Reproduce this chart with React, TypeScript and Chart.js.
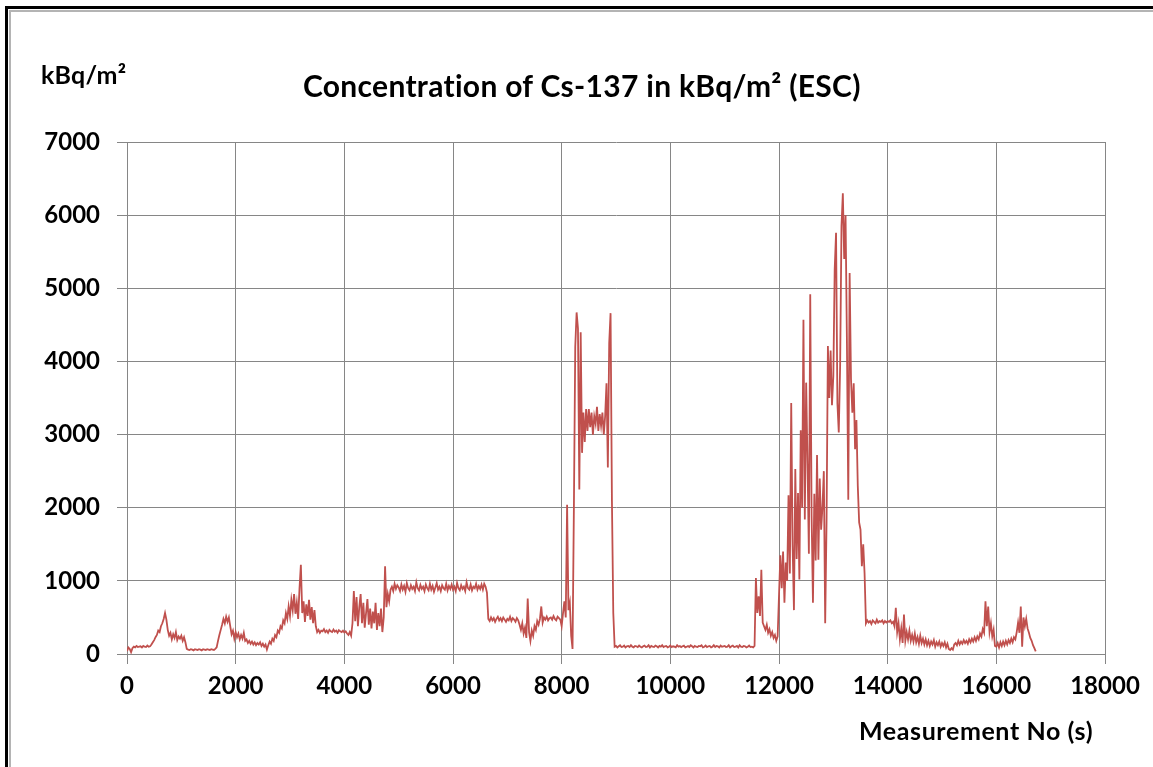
import React, { useEffect, useRef } from "react";
import { Chart, registerables } from "chart.js";

Chart.register(...registerables);

// ---- Data ----
const CHART_TITLE = "Concentration of Cs-137 in kBq/m\u00B2 (ESC)";
const Y_UNIT = "kBq/m\u00B2";
const X_TITLE = "Measurement No (s)";

const xTickValues = [0, 2000, 4000, 6000, 8000, 10000, 12000, 14000, 16000, 18000];
const yTickValues = [0, 1000, 2000, 3000, 4000, 5000, 6000, 7000];

// Measurement numbers are sequential; one reading kept every SAMPLE_STEP measurements
const SAMPLE_STEP = 25;

// Cs-137 concentration (kBq/m²), one row per 500 measurements
const cs137 = [
  // 0 - 475
  40, 90, 70, 25, 80, 100, 90, 110, 95, 100, 105, 90, 110, 100, 95, 115, 100, 105, 130, 160,
  // 500 - 975
  190, 230, 260, 320, 300, 380, 420, 480, 560, 470, 330, 250, 290, 200, 270, 220, 300, 190, 240, 210,
  // 1000 - 1475
  250, 180, 230, 160, 70, 60, 55, 65, 60, 50, 65, 60, 55, 65, 60, 50, 65, 60, 55, 65,
  // 1500 - 1975
  60, 55, 65, 60, 55, 70, 90, 180, 260, 330, 400, 480, 420, 510, 440, 500, 380, 270, 320, 210,
  // 2000 - 2475
  300, 230, 280, 200, 260, 210, 290, 180, 200, 150, 180, 140, 170, 130, 160, 120, 150, 130, 160, 110,
  // 2500 - 2975
  140, 100, 130, 60, 120, 170, 140, 210, 180, 260, 230, 320, 290, 380, 350, 460, 420, 560, 480, 650,
  // 3000 - 3475
  520, 740, 600, 820, 550, 700, 480, 900, 1220, 560, 720, 440, 680, 520, 740, 470, 640, 420, 600, 380,
  // 3500 - 3975
  300, 330, 290, 320, 310, 340, 300, 320, 290, 330, 310, 300, 335, 305, 320, 290, 325, 310, 300, 320,
  // 4000 - 4475
  295, 310, 280, 260, 300, 250, 420, 860, 450, 780, 380, 640, 820, 420, 700, 360, 560, 750, 400, 620,
  // 4500 - 4975
  350, 580, 420, 700, 330, 560, 380, 620, 300, 500, 1200, 640, 820, 720, 880, 920, 860, 960, 890, 940,
  // 5000 - 5475
  910, 860, 950, 880, 930, 850, 970, 900, 870, 940, 890, 920, 860, 980, 900, 870, 945, 890, 920, 860,
  // 5500 - 5975
  950, 900, 870, 960, 880, 930, 850, 910, 970, 880, 920, 860, 940, 900, 880, 960, 870, 930, 890, 950,
  // 6000 - 6475
  880, 920, 860, 970, 900, 870, 940, 890, 920, 860, 980, 900, 880, 950, 870, 920, 900, 960, 880, 930,
  // 6500 - 6975
  890, 950, 880, 960, 920, 840, 480, 450, 500, 460, 490, 440, 480, 510, 460, 490, 450, 500, 470, 440,
  // 7000 - 7475
  480, 460, 510, 450, 490, 470, 440, 490, 460, 400, 330, 420, 280, 360, 220, 760, 300, 180, 320, 250,
  // 7500 - 7975
  380, 330, 450, 400, 480, 650, 430, 500, 470, 510, 460, 490, 500, 470, 520, 480, 460, 510, 490, 470,
  // 8000 - 8475
  380, 560, 720, 500, 2040, 600, 700, 250, 70, 2000, 4200, 4670, 4450, 2250, 4400, 2750, 3300, 2900, 3350, 3050,
  // 8500 - 8975
  3350, 3100, 3300, 3000, 3250, 3150, 3380, 3050, 3280, 3120, 3300, 3000, 3250, 3700, 2550, 4250, 4660, 2100, 560, 100,
  // 9000 - 9475
  110, 90, 105, 120, 95, 100, 115, 90, 105, 110, 95, 120, 100, 90, 110, 105, 95, 115, 100, 90,
  // 9500 - 9975
  105, 115, 95, 100, 120, 90, 110, 100, 95, 115, 105, 90, 110, 100, 120, 95, 105, 110, 90, 100,
  // 10000 - 10475
  115, 95, 105, 100, 90, 120, 100, 110, 95, 105, 115, 90, 100, 110, 95, 120, 105, 90, 110, 100,
  // 10500 - 10975
  95, 110, 105, 120, 90, 100, 115, 95, 105, 110, 90, 100, 120, 95, 110, 105, 90, 115, 100, 105,
  // 11000 - 11475
  110, 95, 100, 120, 90, 105, 115, 95, 100, 110, 90, 120, 100, 95, 110, 105, 90, 100, 115, 95,
  // 11500 - 11975
  100, 90, 110, 1040, 560, 790, 520, 1150, 430, 380, 330, 400, 290, 340, 250, 300, 220, 260, 180, 240,
  // 12000 - 12475
  800, 1350, 900, 1400, 700, 1250, 1000, 2170, 1100, 3430, 1500, 600, 2530, 1300, 2200, 1020, 3060, 2000, 4570, 1840,
  // 12500 - 12975
  3710, 2600, 1370, 4920, 1890, 700, 2190, 1280, 2720, 1290, 2400, 1700, 2010, 2500, 420, 1800, 4210, 3500, 4150, 3400,
  // 13000 - 13475
  3800, 5260, 5760, 3430, 3030, 3930, 5850, 6300, 5400, 6000, 4270, 2110, 5210, 3760, 3300, 3700, 2800, 3200, 2300, 1800,
  // 13500 - 13975
  1700, 1200, 1500, 1100, 420, 460, 430, 450, 410, 460, 440, 420, 470, 430, 450, 440, 460, 420, 450, 430,
  // 14000 - 14475
  450, 440, 460, 420, 440, 380, 630, 300, 420, 200, 350, 150, 540, 180, 300, 200, 320, 180, 260, 170,
  // 14500 - 14975
  280, 160, 230, 140, 250, 150, 210, 130, 200, 120, 180, 110, 170, 130, 190, 100, 160, 120, 170, 100,
  // 15000 - 15475
  150, 110, 160, 90, 140, 70, 55, 80, 60, 130, 150, 120, 180, 130, 170, 140, 190, 150, 180, 140,
  // 15500 - 15975
  200, 160, 210, 170, 230, 180, 240, 200, 280, 240, 340, 290, 720, 380, 650, 300, 420, 240, 330, 110,
  // 16000 - 16475
  100, 150, 90, 160, 110, 170, 120, 180, 130, 190, 150, 210, 160, 230, 200, 300, 430, 290, 650, 100,
  // 16500 - 16725
  500, 380, 480, 350, 290, 220, 180, 120, 80, 35,
];

const FONT = "Lato, 'Open Sans', sans-serif";
const LINE_COLOR = "#C0504D";
const GRID_COLOR = "#868686";

export default function App() {
  const canvasRef = useRef<HTMLCanvasElement | null>(null);

  useEffect(() => {
    const canvas = canvasRef.current;
    if (!canvas) return;
    const points = cs137.map((v, i) => ({ x: i * SAMPLE_STEP, y: v }));
    const tickFont = { family: FONT, size: 24, weight: "bold" as const };
    const chart = new Chart(canvas, {
      type: "line",
      data: {
        datasets: [
          {
            data: points,
            borderColor: LINE_COLOR,
            borderWidth: 1.8,
            pointRadius: 0,
            tension: 0,
            fill: false,
          },
        ],
      },
      options: {
        responsive: false,
        animation: false,
        events: [],
        layout: { padding: { left: 0, right: 48, top: 142, bottom: 0 } },
        plugins: { legend: { display: false }, tooltip: { enabled: false }, title: { display: false } },
        scales: {
          x: {
            type: "linear",
            min: xTickValues[0],
            max: xTickValues[xTickValues.length - 1],
            afterBuildTicks: (s: any) => {
              s.ticks = xTickValues.map((v) => ({ value: v }));
            },
            afterFit: (s: any) => {
              s.height = 113;
            },
            ticks: {
              font: tickFont,
              color: "#000",
              padding: 8,
              maxRotation: 0,
              autoSkip: false,
              callback: (v: any) => String(v),
            },
            grid: { color: GRID_COLOR, lineWidth: 1, tickLength: 10, drawTicks: true },
            border: { color: GRID_COLOR, width: 1 },
          },
          y: {
            type: "linear",
            min: yTickValues[0],
            max: yTickValues[yTickValues.length - 1],
            afterBuildTicks: (s: any) => {
              s.ticks = yTickValues.map((v) => ({ value: v }));
            },
            afterFit: (s: any) => {
              s.width = 127;
            },
            ticks: {
              font: tickFont,
              color: "#000",
              padding: 17,
              autoSkip: false,
              callback: (v: any) => String(v),
            },
            grid: { color: GRID_COLOR, lineWidth: 1, tickLength: 10, drawTicks: true },
            border: { color: GRID_COLOR, width: 1 },
          },
        },
      },
    });
    return () => chart.destroy();
  }, []);

  const textBase: React.CSSProperties = {
    position: "absolute",
    fontFamily: FONT,
    fontWeight: 700,
    color: "#000",
    whiteSpace: "nowrap",
    lineHeight: 1,
  };

  return (
    <div
      style={{
        position: "fixed",
        left: 0,
        top: 0,
        width: 1153,
        height: 767,
        background: "#fff",
        overflow: "hidden",
      }}
    >
      <div
        style={{
          position: "absolute",
          left: 5,
          top: 6,
          width: 1300,
          height: 900,
          borderTop: "3px solid #000",
          borderLeft: "3px solid #000",
        }}
      >
        <div
          style={{
            position: "absolute",
            left: 1,
            top: 1,
            width: 1300,
            height: 900,
            borderTop: "2px solid #b4b4b4",
            borderLeft: "2px solid #b4b4b4",
          }}
        />
      </div>
      <canvas
        ref={canvasRef}
        width={1153}
        height={767}
        style={{ position: "absolute", left: 0, top: 0, width: 1153, height: 767 }}
      />
      <div style={{ ...textBase, left: 303, top: 70, fontSize: 30, letterSpacing: 0.3 }}>{CHART_TITLE}</div>
      <div style={{ ...textBase, left: 41, top: 62, fontSize: 25, letterSpacing: 0.2 }}>{Y_UNIT}</div>
      <div style={{ ...textBase, left: 859, top: 718, fontSize: 25, letterSpacing: 0.6 }}>{X_TITLE}</div>
    </div>
  );
}
